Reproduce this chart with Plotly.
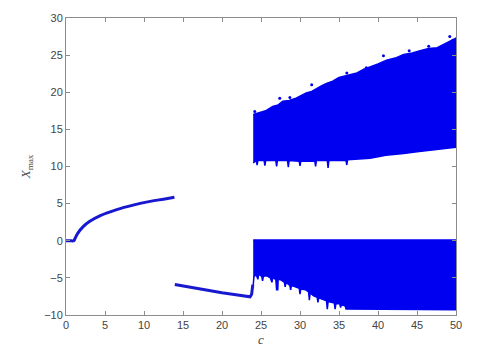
import plotly.graph_objects as go

# ---- data ----
# periodic branch 1 (c from 0 to ~14)
branch1_c = [0, 0.5, 1.0, 1.15, 1.5, 2.2, 3.0, 4.4, 6.5, 8.6, 10.8, 12.5, 13.9]
branch1_x = [0, 0, 0, 0.3, 1.0, 1.9, 2.6, 3.4, 4.2, 4.8, 5.3, 5.6, 5.85]

# periodic branch 2 (c from ~14 to ~24)
branch2_c = [13.95, 16, 18, 20, 22, 23.6, 23.8, 23.95]
branch2_x = [-5.9, -6.3, -6.7, -7.0, -7.3, -7.55, -7.2, -5.9]

# chaotic region, lower band: top edge and bottom edge
lower_top_c = [24.0, 50.0]
lower_top_x = [0.1, 0.1]
lower_bot_c = [24.0, 24.1, 24.4, 24.6, 24.7, 25.1, 25.2, 25.3, 25.7, 26.2, 26.4,
               26.5, 26.9, 27.0, 27.15, 27.2, 27.6, 28.0, 28.1, 28.2, 28.7, 28.8,
               28.9, 29.4, 29.9, 30.0, 30.1, 30.7, 31.1, 31.2, 31.3, 31.7, 32.2,
               32.3, 32.4, 32.9, 33.4, 33.5, 33.6, 34.0, 34.4, 34.5, 34.6, 35.1,
               35.2, 35.3, 35.8, 35.9, 36.3, 40.0, 45.0, 50.0]
lower_bot_x = [-6.0, -4.8, -4.6, -5.2, -4.5, -4.8, -5.4, -4.8, -4.7, -5.0, -5.6,
               -5.0, -5.2, -6.6, -6.6, -5.2, -5.3, -5.6, -6.2, -5.6, -6.0, -6.6,
               -6.0, -6.2, -6.4, -7.2, -6.5, -6.6, -6.9, -8.0, -7.0, -7.4, -7.6,
               -8.3, -7.7, -7.9, -8.1, -9.2, -8.2, -8.3, -8.4, -9.2, -8.5, -8.5,
               -9.0, -8.6, -8.8, -9.2, -9.3, -9.3, -9.3, -9.3]

# chaotic region, upper band: top edge and bottom edge
upper_top_c = [24.0, 24.8, 25.6, 26.5, 27.2, 27.8, 28.6, 29.5, 30.2, 30.8, 31.5,
               32.1, 32.8, 33.4, 34.2, 35.0, 36.2, 37.3, 38.2, 39.0, 40.0, 41.1,
               42.2, 43.3, 44.4, 45.4, 46.5, 47.6, 48.5, 49.3, 50.0]
upper_top_x = [17.0, 17.3, 17.5, 18.1, 18.3, 18.8, 18.9, 19.2, 19.6, 19.9, 20.1,
               20.5, 20.9, 21.2, 21.5, 22.0, 22.3, 22.6, 23.1, 23.4, 23.8, 24.3,
               24.6, 25.1, 25.3, 25.6, 25.9, 26.0, 26.5, 26.9, 27.3]
upper_bot_c = [24.0, 24.4, 24.5, 24.6, 25.4, 25.5, 25.6, 26.9, 27.0, 27.1, 28.4,
               28.5, 28.6, 29.9, 30.0, 30.1, 31.9, 32.0, 32.1, 33.5, 33.6, 33.7,
               35.9, 36.0, 36.1, 37.0, 38.0, 39.0, 41.0, 43.3, 45.0, 47.0, 50.0]
upper_bot_x = [10.5, 10.8, 10.2, 10.8, 10.8, 10.1, 10.8, 10.8, 10.0, 10.8, 10.8,
               9.9, 10.8, 10.7, 10.1, 10.7, 10.7, 10.0, 10.8, 10.8, 9.8, 10.8,
               10.8, 10.2, 10.9, 11.0, 11.0, 11.1, 11.5, 11.75, 12.0, 12.3, 12.6]

# scattered points above the upper band
outlier_c = [24.2, 27.4, 28.7, 31.5, 36.0, 38.5, 40.7, 44.0, 46.5, 49.2, 49.6]
outlier_x = [17.4, 19.2, 19.3, 21.0, 22.6, 23.3, 24.9, 25.6, 26.2, 27.5, 27.0]

x_ticks = [0, 5, 10, 15, 20, 25, 30, 35, 40, 45, 50]
y_ticks = [-10, -5, 0, 5, 10, 15, 20, 25, 30]

BAND = "#0000f0"
LINE = "#1818d0"

fig = go.Figure()

fig.add_trace(go.Scatter(
    x=upper_top_c + upper_bot_c[::-1],
    y=upper_top_x + upper_bot_x[::-1],
    mode="lines", fill="toself", fillcolor=BAND,
    line=dict(color=BAND, width=1.5), hoverinfo="skip"))

fig.add_trace(go.Scatter(
    x=lower_top_c + lower_bot_c[::-1],
    y=lower_top_x + lower_bot_x[::-1],
    mode="lines", fill="toself", fillcolor=BAND,
    line=dict(color=BAND, width=1.5), hoverinfo="skip"))

fig.add_trace(go.Scatter(
    x=outlier_c, y=outlier_x, mode="markers",
    marker=dict(color=BAND, size=3)))

fig.add_trace(go.Scatter(
    x=branch1_c, y=branch1_x, mode="lines",
    line=dict(color=LINE, width=3, shape="spline")))

fig.add_trace(go.Scatter(
    x=branch2_c, y=branch2_x, mode="lines",
    line=dict(color=LINE, width=3)))

axis_common = dict(
    showgrid=False, zeroline=False, showline=True, linecolor="#8c8c8c",
    linewidth=1, mirror="ticks", ticks="inside", ticklen=4,
    tickcolor="#8c8c8c", tickfont=dict(family="Liberation Sans, Arial",
                                        size=11, color="#444444"))

fig.update_layout(
    width=504, height=356,
    margin=dict(l=66, r=48, t=13, b=39),
    paper_bgcolor="white", plot_bgcolor="white",
    showlegend=False,
    xaxis=dict(range=[0, 50], tickvals=x_ticks, **axis_common,
               title=dict(text="<i>c</i>", standoff=4,
                          font=dict(family="Liberation Serif", size=13,
                                    color="#444444"))),
    yaxis=dict(range=[-10, 30], tickvals=y_ticks, **axis_common,
               title=dict(text="<i>X</i><sub>max</sub>", standoff=10,
                          font=dict(family="Liberation Serif", size=13,
                                    color="#444444"))),
)

fig.write_html("out.html")
